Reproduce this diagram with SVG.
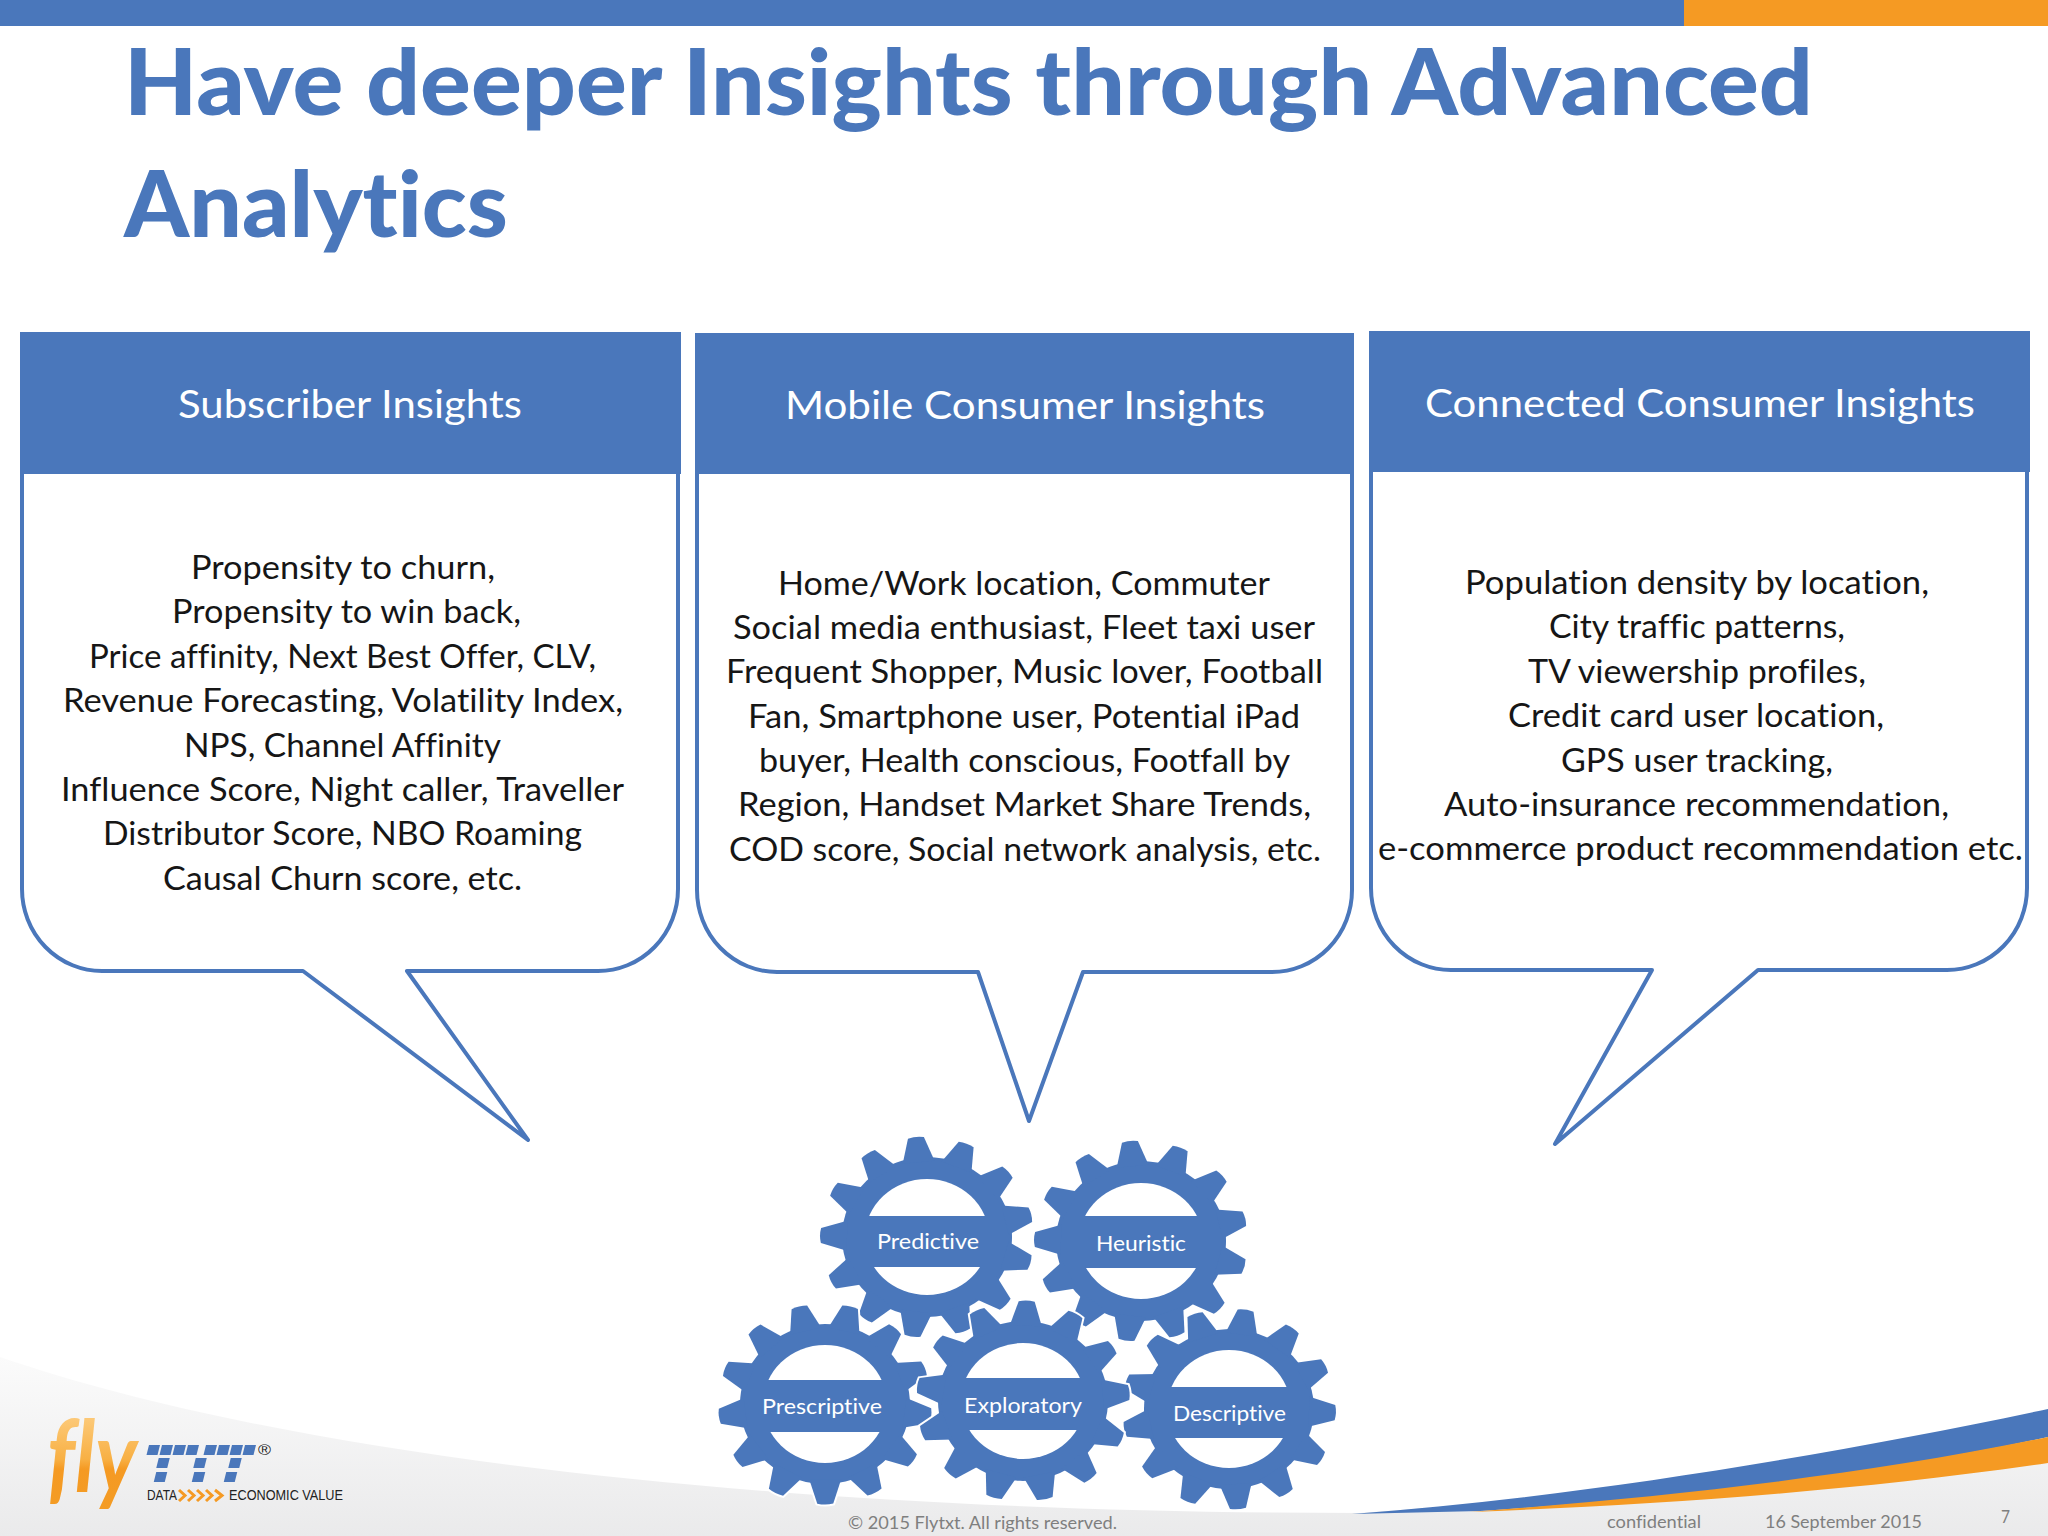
<svg xmlns="http://www.w3.org/2000/svg" width="2048" height="1536" viewBox="0 0 2048 1536">
<style>
text{font-family:Lato,"Open Sans",sans-serif;font-variant-ligatures:none}
.title{font-size:91px;font-weight:900;fill:#4a77bb}
.head{font-size:38px;fill:#fff}
.body{font-size:33px;fill:#161616}
.gl{font-size:22px;fill:#fff}
.foot{font-size:17px;fill:#7f7f7f}
.box{fill:#fff;stroke:#4a77bb;stroke-width:4;stroke-linejoin:round}
.hd{fill:#4a77bb}
.hole{fill:#fff}
.band{fill:#4a77bb}
.tag{font-family:"Liberation Sans",Arial,sans-serif;font-size:14px;fill:#222}
.chev{fill:none;stroke:#f59a23;stroke-width:3}
.px{fill:#4a77bb}
</style>
<defs>
<linearGradient id="grey" x1="0" y1="1357" x2="0" y2="1536" gradientUnits="userSpaceOnUse"><stop offset="0" stop-color="#fbfbfb"/><stop offset="1" stop-color="#eaeaeb"/></linearGradient>
<linearGradient id="flyg" x1="0" y1="1420" x2="0" y2="1518" gradientUnits="userSpaceOnUse"><stop offset="0" stop-color="#fcc876"/><stop offset=".4" stop-color="#f8b044"/><stop offset=".5" stop-color="#f59a23"/><stop offset="1" stop-color="#f39c25"/></linearGradient>
<path id="tooth" d="M-16,-80 L-8,-106 Q0,-108 8,-106 L16,-80 Z"/>
<g id="gear">
<circle r="85"/>
<use href="#tooth"/>
<use href="#tooth" transform="rotate(27.69)"/>
<use href="#tooth" transform="rotate(55.38)"/>
<use href="#tooth" transform="rotate(83.08)"/>
<use href="#tooth" transform="rotate(110.77)"/>
<use href="#tooth" transform="rotate(138.46)"/>
<use href="#tooth" transform="rotate(166.15)"/>
<use href="#tooth" transform="rotate(193.85)"/>
<use href="#tooth" transform="rotate(221.54)"/>
<use href="#tooth" transform="rotate(249.23)"/>
<use href="#tooth" transform="rotate(276.92)"/>
<use href="#tooth" transform="rotate(304.62)"/>
<use href="#tooth" transform="rotate(332.31)"/>
</g>
</defs>
<rect width="2048" height="1536" fill="#fff"/>
<g id="background">
<path d="M0,1357 C300,1460 800,1513 1360,1513 L2048,1462 L2048,1536 L0,1536 Z" fill="url(#grey)"/>
<path d="M1352,1514 C1580,1497 1830,1455 2048,1409 L2048,1437 C1850,1480 1650,1500 1480,1511 Z" fill="#4a77bb"/>
<path d="M1470,1512 C1650,1498 1850,1478 2048,1437 L2048,1463 C1850,1492 1650,1505 1470,1512 Z" fill="#f59a23"/>
<rect x="0" y="0" width="1684" height="26" fill="#4a77bb"/>
<rect x="1684" y="0" width="364" height="26" fill="#f59a23"/>
</g>
<g id="title">
<text class="title" x="124" y="115" textLength="1689" lengthAdjust="spacingAndGlyphs">Have deeper Insights through Advanced</text>
<text class="title" x="124" y="237" textLength="384" lengthAdjust="spacingAndGlyphs">Analytics</text>
</g>
<g id="subscriber-insights">
<path class="box" d="M22,474 L22,889 A80,82 0 0 0 102,971 L303,971 L528,1140 L407,971 L598,971 A80,82 0 0 0 678,889 L678,474"/>
<rect class="hd" x="20" y="332" width="661" height="142"/>
<text class="head" x="178" y="418" textLength="344" lengthAdjust="spacingAndGlyphs">Subscriber Insights</text>
<text class="body" x="191" y="579" textLength="304" lengthAdjust="spacingAndGlyphs">Propensity to churn,</text>
<text class="body" x="172" y="623" textLength="349" lengthAdjust="spacingAndGlyphs">Propensity to win back,</text>
<text class="body" x="89" y="668" textLength="507" lengthAdjust="spacingAndGlyphs">Price affinity, Next Best Offer, CLV,</text>
<text class="body" x="63" y="712" textLength="560" lengthAdjust="spacingAndGlyphs">Revenue Forecasting, Volatility Index,</text>
<text class="body" x="184" y="757" textLength="317" lengthAdjust="spacingAndGlyphs">NPS, Channel Affinity</text>
<text class="body" x="61" y="801" textLength="563" lengthAdjust="spacingAndGlyphs">Influence Score, Night caller, Traveller</text>
<text class="body" x="103" y="845" textLength="479" lengthAdjust="spacingAndGlyphs">Distributor Score, NBO Roaming</text>
<text class="body" x="163" y="890" textLength="359" lengthAdjust="spacingAndGlyphs">Causal Churn score, etc.</text>
</g>
<g id="mobile-consumer-insights">
<path class="box" d="M697,474 L697,890 A80,82 0 0 0 777,972 L978,972 L1029,1121 L1083,972 L1272,972 A80,82 0 0 0 1352,890 L1352,474"/>
<rect class="hd" x="695" y="333" width="659" height="141"/>
<text class="head" x="785" y="419" textLength="480" lengthAdjust="spacingAndGlyphs">Mobile Consumer Insights</text>
<text class="body" x="778" y="595" textLength="492" lengthAdjust="spacingAndGlyphs">Home/Work location, Commuter</text>
<text class="body" x="733" y="639" textLength="582" lengthAdjust="spacingAndGlyphs">Social media enthusiast, Fleet taxi user</text>
<text class="body" x="726" y="683" textLength="597" lengthAdjust="spacingAndGlyphs">Frequent Shopper, Music lover, Football</text>
<text class="body" x="748" y="728" textLength="552" lengthAdjust="spacingAndGlyphs">Fan, Smartphone user, Potential iPad</text>
<text class="body" x="759" y="772" textLength="531" lengthAdjust="spacingAndGlyphs">buyer, Health conscious, Footfall by</text>
<text class="body" x="738" y="816" textLength="573" lengthAdjust="spacingAndGlyphs">Region, Handset Market Share Trends,</text>
<text class="body" x="729" y="861" textLength="592" lengthAdjust="spacingAndGlyphs">COD score, Social network analysis, etc.</text>
</g>
<g id="connected-consumer-insights">
<path class="box" d="M1371,472 L1371,888 A80,82 0 0 0 1451,970 L1652,970 L1555,1144 L1758,970 L1947,970 A80,82 0 0 0 2027,888 L2027,472"/>
<rect class="hd" x="1369" y="331" width="661" height="141"/>
<text class="head" x="1425" y="417" textLength="550" lengthAdjust="spacingAndGlyphs">Connected Consumer Insights</text>
<text class="body" x="1465" y="594" textLength="464" lengthAdjust="spacingAndGlyphs">Population density by location,</text>
<text class="body" x="1549" y="638" textLength="296" lengthAdjust="spacingAndGlyphs">City traffic patterns,</text>
<text class="body" x="1528" y="683" textLength="338" lengthAdjust="spacingAndGlyphs">TV viewership profiles,</text>
<text class="body" x="1508" y="727" textLength="376" lengthAdjust="spacingAndGlyphs">Credit card user location,</text>
<text class="body" x="1561" y="772" textLength="272" lengthAdjust="spacingAndGlyphs">GPS user tracking,</text>
<text class="body" x="1444" y="816" textLength="505" lengthAdjust="spacingAndGlyphs">Auto-insurance recommendation,</text>
<text class="body" x="1378" y="860" textLength="645" lengthAdjust="spacingAndGlyphs">e-commerce product recommendation etc.</text>
</g>
<g id="gear-heuristic">
<use href="#gear" transform="translate(1141,1241) scale(1,.94) rotate(-6)" fill="#fff" stroke="#fff" stroke-width="4"/>
<use href="#gear" transform="translate(1141,1241) scale(1,.94) rotate(-6)" fill="#4a77bb"/>
<ellipse class="hole" cx="1141" cy="1241" rx="62" ry="58"/>
<rect class="band" x="1069" y="1216" width="144" height="52"/>
<text class="gl" x="1096" y="1251" textLength="90" lengthAdjust="spacingAndGlyphs">Heuristic</text>
</g>
<g id="gear-predictive">
<use href="#gear" transform="translate(927,1237) scale(1,.94) rotate(-6)" fill="#fff" stroke="#fff" stroke-width="4"/>
<use href="#gear" transform="translate(927,1237) scale(1,.94) rotate(-6)" fill="#4a77bb"/>
<ellipse class="hole" cx="927" cy="1237" rx="62" ry="58"/>
<rect class="band" x="855" y="1216" width="144" height="51"/>
<text class="gl" x="877" y="1249" textLength="102" lengthAdjust="spacingAndGlyphs">Predictive</text>
</g>
<g id="gear-prescriptive">
<use href="#gear" transform="translate(825,1404) scale(1,.94) rotate(-14)" fill="#fff" stroke="#fff" stroke-width="4"/>
<use href="#gear" transform="translate(825,1404) scale(1,.94) rotate(-14)" fill="#4a77bb"/>
<ellipse class="hole" cx="825" cy="1404" rx="62" ry="59"/>
<rect class="band" x="753" y="1380" width="144" height="52"/>
<text class="gl" x="762" y="1414" textLength="120" lengthAdjust="spacingAndGlyphs">Prescriptive</text>
</g>
<g id="gear-descriptive">
<use href="#gear" transform="translate(1229,1409) scale(1,.94) rotate(9)" fill="#fff" stroke="#fff" stroke-width="4"/>
<use href="#gear" transform="translate(1229,1409) scale(1,.94) rotate(9)" fill="#4a77bb"/>
<ellipse class="hole" cx="1229" cy="1409" rx="62" ry="59"/>
<rect class="band" x="1157" y="1387" width="144" height="51"/>
<text class="gl" x="1173" y="1421" textLength="113" lengthAdjust="spacingAndGlyphs">Descriptive</text>
</g>
<g id="gear-exploratory">
<use href="#gear" transform="translate(1023,1401) scale(1,.94) rotate(2)" fill="#fff" stroke="#fff" stroke-width="4"/>
<use href="#gear" transform="translate(1023,1401) scale(1,.94) rotate(2)" fill="#4a77bb"/>
<ellipse class="hole" cx="1023" cy="1401" rx="62" ry="58"/>
<rect class="band" x="951" y="1378" width="144" height="52"/>
<text class="gl" x="964" y="1413" textLength="118" lengthAdjust="spacingAndGlyphs">Exploratory</text>
</g>
<g id="logo">
<text x="47" y="1492" font-size="100" font-style="italic" font-weight="700" fill="url(#flyg)" textLength="90" lengthAdjust="spacingAndGlyphs">fly</text>
<g class="px" transform="translate(0,1445) skewX(-14)">
<rect x="149" y="0" width="11" height="10"/><rect x="162" y="0" width="11" height="10"/><rect x="175" y="0" width="11" height="10"/><rect x="188" y="0" width="11" height="10"/>
<rect x="206" y="0" width="11" height="10"/><rect x="219" y="0" width="11" height="10"/><rect x="232" y="0" width="11" height="10"/><rect x="245" y="0" width="11" height="10"/>
<rect x="162" y="13" width="11" height="10"/><rect x="199" y="13" width="11" height="10"/><rect x="234" y="13" width="11" height="10"/>
<rect x="163" y="27" width="11" height="10"/><rect x="201" y="27" width="11" height="10"/><rect x="233" y="27" width="11" height="10"/>
</g>
<text class="tag" x="258" y="1455" textLength="13" lengthAdjust="spacingAndGlyphs">®</text>
<text class="tag" x="147" y="1500" textLength="30" lengthAdjust="spacingAndGlyphs">DATA</text>
<path class="chev" d="M179,1490 L185,1495.5 L179,1501 M188,1490 L194,1495.5 L188,1501 M197,1490 L203,1495.5 L197,1501 M206,1490 L212,1495.5 L206,1501 M215,1490 L222,1495.5 L215,1501"/>
<text class="tag" x="229" y="1500" textLength="114" lengthAdjust="spacingAndGlyphs">ECONOMIC VALUE</text>
</g>
<g id="footer">
<text class="foot" x="848" y="1529" textLength="269" lengthAdjust="spacingAndGlyphs">© 2015 Flytxt. All rights reserved.</text>
<text class="foot" x="1607" y="1528" textLength="94" lengthAdjust="spacingAndGlyphs">confidential</text>
<text class="foot" x="1765" y="1528" textLength="157" lengthAdjust="spacingAndGlyphs">16 September 2015</text>
<text class="foot" x="2001" y="1523" textLength="9" lengthAdjust="spacingAndGlyphs">7</text>
</g>
</svg>
